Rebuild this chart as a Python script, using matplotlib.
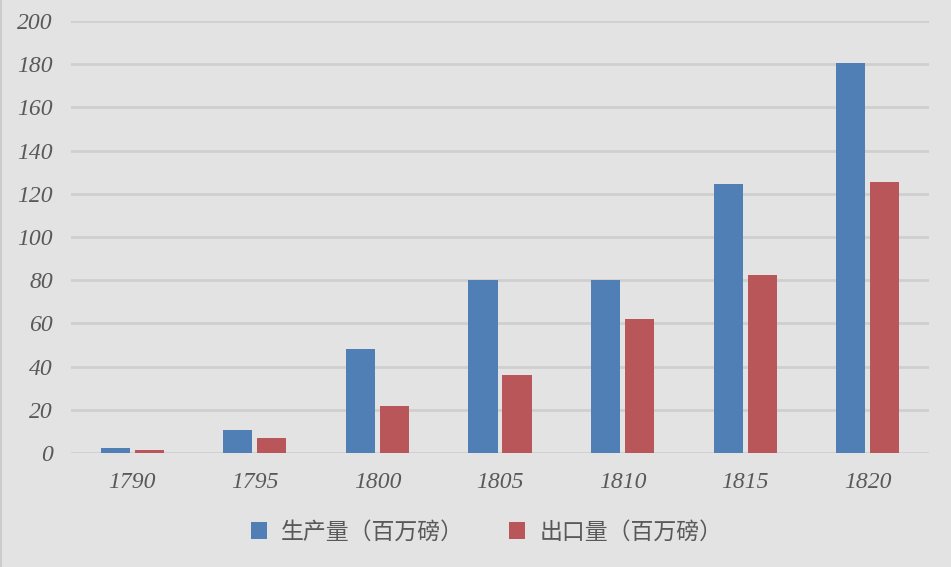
import numpy as np
import matplotlib.pyplot as plt
from matplotlib.lines import Line2D

years = ["1790", "1795", "1800", "1805", "1810", "1815", "1820"]
production = [2.4, 10.6, 48.0, 80.3, 80.3, 124.5, 180.5]
exports = [1.4, 6.9, 21.8, 36.2, 62.0, 82.4, 125.5]
series_names = ["生产量（百万磅）", "出口量（百万磅）"]

bg = "#e3e3e3"
blue = "#4f7fb4"
red = "#b9565a"
text_gray = "#595959"

fig = plt.figure(figsize=(9.51, 5.67), dpi=100, facecolor=bg)
ax = fig.add_axes([71 / 951, 114 / 567, 858 / 951, 432 / 567], facecolor=bg)

x = np.arange(len(years))
w = 0.238
off = 0.139
b1 = ax.bar(x - off, production, w, color=blue, label=series_names[0], zorder=3)
b2 = ax.bar(x + off, exports, w, color=red, label=series_names[1], zorder=3)

ax.set_xlim(-0.5, len(years) - 0.5)
ax.set_ylim(0, 200)
ax.set_yticks(np.arange(0, 201, 20))
ax.set_xticks(x)
ax.set_xticklabels(years)

for s in ax.spines.values():
    s.set_visible(False)
ax.yaxis.grid(True, color="#cfcfcf", linewidth=2, zorder=0)
ax.tick_params(axis="both", length=0, colors=text_gray)
ax.tick_params(axis="y", pad=13)
ax.tick_params(axis="x", pad=14)
for lab in ax.get_xticklabels() + ax.get_yticklabels():
    lab.set_fontfamily("Liberation Serif")
    lab.set_fontstyle("italic")
    lab.set_fontsize(17)
    lab.set_color(text_gray)

leg = fig.legend(handles=[b1, b2], loc="center", bbox_to_anchor=(0.5115, 1 - 532 / 567),
                 ncol=2, frameon=False, handlelength=0.7, handleheight=0.7,
                 handletextpad=0.6, columnspacing=2.0,
                 prop={"family": ["Noto Sans CJK SC", "DejaVu Sans"], "size": 16.5})
for t in leg.get_texts():
    t.set_color(text_gray)

# faint left border of the chart area
fig.add_artist(Line2D([0.001, 0.001], [0, 1], transform=fig.transFigure,
                      color="#cccccc", linewidth=1.5))

fig.savefig("out.png", dpi=100, facecolor=bg)
